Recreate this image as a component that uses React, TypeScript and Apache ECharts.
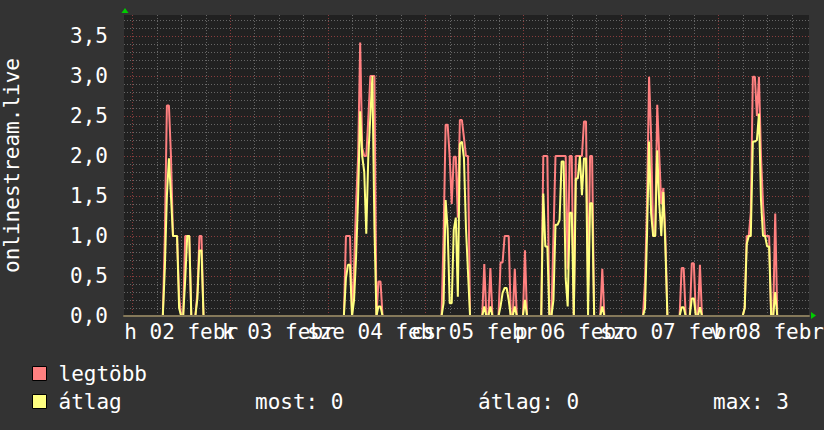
import React, { useEffect, useRef } from "react";
import * as echarts from "echarts";

// Time axis in hours relative to 2 Feb 00:00, sampled every half hour (index k = 2*hour)
const X_MIN = -2.04;
const X_MAX = 166.3;
const Y_MAX = 3.7625;

const dayLabels = ["h 02 febr", "k 03 febr", "sze 04 febr", "cs 05 febr", "p 06 febr", "szo 07 febr", "v 08 febr"];
const dayLabelHours = [12, 36, 60, 84, 108, 132, 156];
const midnightHours = [0, 24, 48, 72, 96, 120, 144];

const seriesNames = ["legtöbb", "átlag"];
const statLabels = ["most: 0", "átlag: 0", "max: 3"];

// Segments: start index (half-hours), values of "legtöbb" (max) and "átlag" (avg)
const seg1Start = 16;
const seg1Max = [1.0, 2.63, 2.63, 2.0, 1.0, 1.0, 1.0, 0.25, 0, 0, 1.0, 1.0, 1.0, 0, 0, 0, 0.3, 1.0, 1.0, 0];
const seg1Avg = [0.6, 1.5, 1.97, 1.5, 1.0, 1.0, 1.0, 0.1, 0, 0, 0.45, 1.0, 1.0, 0, 0, 0, 0.22, 0.82, 0.82, 0];

const seg2Start = 105;
const seg2Max = [1.0, 1.0, 1.0, 0, 0.6, 1.4, 2.0, 3.42, 2.1, 2.0, 2.0, 2.47, 3.0, 3.0, 3.0, 0, 0.43, 0.43, 0];
const seg2Avg = [0.47, 0.64, 0.64, 0, 0.2, 0.75, 1.5, 2.56, 2.0, 1.8, 1.03, 2.0, 2.5, 3.0, 1.12, 0, 0.12, 0.12, 0];

const seg3Start = 153;
const seg3Max = [1.0, 2.39, 2.39, 1.99, 1.4, 1.99, 1.99, 1.23, 2.45, 2.45, 2.23, 2.0, 2.0, 0];
const seg3Avg = [0.16, 1.45, 1.08, 0.16, 0.16, 1.08, 1.23, 0.24, 2.15, 2.18, 1.98, 1.1, 0.54, 0];

const seg4Start = 173;
const seg4Max = [0.65, 0, 0, 0.6, 0, 0, 0, 0, 0.67, 0.67, 1.0, 1.0, 1.0, 0, 0, 0.59, 0, 0, 0, 0, 0.82, 0];
const seg4Avg = [0.12, 0, 0, 0.12, 0, 0, 0, 0, 0.12, 0.29, 0.35, 0.35, 0.2, 0, 0, 0.12, 0, 0, 0, 0, 0.2, 0];

const seg5Start = 202;
const seg5Max = [2.0, 2.0, 2.0, 0, 0, 1.0, 2.0, 2.0, 2.0, 2.0, 2.0, 2.0, 0.58, 2.0, 2.0, 0, 2.0, 2.0, 2.0, 2.0, 2.43, 2.43, 0.3, 2.0, 2.0, 0, 0, 0, 0, 0.59, 0];
const seg5Avg = [1.53, 0.87, 0.87, 0, 0, 0.2, 1.14, 1.14, 1.2, 1.93, 1.93, 0.47, 0.12, 1.29, 1.29, 0, 1.72, 1.72, 2.0, 1.51, 1.97, 1.97, 0, 1.41, 1.41, 0, 0, 0, 0, 0.12, 0];

const seg6Start = 252;
const seg6Max = [0.43, 1.41, 2.99, 2.24, 1.0, 1.0, 2.64, 2.01, 1.4, 1.6, 1.0, 0, 0, 0, 0, 0, 0, 0, 0.6, 0.6, 0, 0, 0, 0.66, 0.66, 0, 0, 0.64, 0];
const seg6Avg = [0.1, 1.03, 2.18, 1.28, 1.0, 1.0, 2.07, 1.41, 1.0, 1.55, 0.87, 0, 0, 0, 0, 0, 0, 0, 0.11, 0.11, 0, 0, 0, 0.22, 0.22, 0, 0, 0.11, 0];

const seg7Start = 301;
const seg7Max = [0.1, 1.0, 1.0, 1.3, 2.99, 2.99, 2.5, 2.99, 2.0, 1.4, 1.0, 1.0, 1.0, 0, 0, 1.28, 0];
const seg7Avg = [0.1, 0.9, 1.0, 1.0, 2.18, 2.18, 2.2, 2.53, 1.45, 1.0, 1.0, 0.87, 0.87, 0, 0, 0.3, 0];

const segStarts = [seg1Start, seg2Start, seg3Start, seg4Start, seg5Start, seg6Start, seg7Start];
const segMax = [seg1Max, seg2Max, seg3Max, seg4Max, seg5Max, seg6Max, seg7Max];
const segAvg = [seg1Avg, seg2Avg, seg3Avg, seg4Avg, seg5Avg, seg6Avg, seg7Avg];

const K_MIN = -4;
const K_MAX = 332;

function buildSeries(segs: number[][]): number[][] {
  const map = new Map<number, number>();
  segs.forEach((vals, i) => {
    vals.forEach((v, j) => map.set(segStarts[i] + j, v));
  });
  const out: number[][] = [];
  for (let k = K_MIN; k <= K_MAX; k++) {
    out.push([k / 2, map.get(k) ?? 0]);
  }
  return out;
}

const FONT = "'DejaVu Sans Mono', monospace";
const MINOR = "#666666";
const MAJOR = "#8a3c3c";
const RED = "#ff8080";
const YELLOW = "#ffff80";

export default function App() {
  const ref = useRef<HTMLDivElement>(null);
  useEffect(() => {
    if (!ref.current) return;
    const chart = echarts.init(ref.current, undefined, { renderer: "svg" });

    const vMinor: number[] = [];
    for (let h = 6; h < X_MAX; h += 6) if (!midnightHours.includes(h)) vMinor.push(h);
    const hMinor: number[] = [];
    const hMajor: number[] = [];
    for (let i = 1; i <= 37; i++) (i % 5 === 0 ? hMajor : hMinor).push(i / 10);

    const labelData = dayLabelHours.map((h, i) => [h, 0, i]);

    chart.setOption({
      animation: false,
      backgroundColor: "#333333",
      grid: {
        left: 124,
        top: 15,
        width: 685,
        height: 301,
        show: true,
        backgroundColor: "#212121",
        borderWidth: 0,
        containLabel: false,
        outerBoundsMode: "none",
      },
      legend: {
        data: seriesNames,
        orient: "vertical",
        left: 32,
        top: 363,
        padding: 0,
        icon: "rect",
        itemWidth: 14,
        itemHeight: 14,
        itemGap: 7,
        itemStyle: { borderColor: "#000", borderWidth: 1 },
        textStyle: { color: "#ffffff", fontFamily: FONT, fontSize: 21, lineHeight: 21, padding: [0, 0, 0, 7] },
        selectedMode: false,
      },
      xAxis: {
        type: "value",
        min: X_MIN,
        max: X_MAX,
        z: 10,
        axisLine: { show: true, onZero: false, lineStyle: { color: "#85795a", width: 2 } },
        axisTick: { show: false },
        splitLine: { show: false },
        axisLabel: { show: false },
      },
      yAxis: {
        type: "value",
        min: 0,
        max: Y_MAX,
        interval: 0.5,
        name: "onlinestream.live",
        nameLocation: "middle",
        nameRotate: 90,
        nameGap: 102,
        nameTextStyle: { color: "#ffffff", fontFamily: FONT, fontSize: 21 },
        axisLine: { show: false },
        axisTick: { show: false },
        splitLine: { show: false },
        axisLabel: {
          color: "#ffffff",
          fontFamily: FONT,
          fontSize: 21,
          margin: 16,
          showMaxLabel: false,
          formatter: (v: number) => v.toFixed(1).replace(".", ","),
        },
      },
      graphic: [
        {
          type: "polygon",
          shape: { points: [[125, 8], [121.5, 13], [128.5, 13]] },
          style: { fill: "#00cc00" },
          z: 100,
        },
        {
          type: "polygon",
          shape: { points: [[816, 315.5], [811, 312], [811, 319]] },
          style: { fill: "#00cc00" },
          z: 100,
        },
        ...statLabels.map((t, i) => ({
          type: "text",
          left: [255, 478, 713][i],
          top: 391,
          style: { text: t, fill: "#ffffff", font: `21px ${FONT}` },
        })),
      ],
      series: [
        {
          type: "custom",
          silent: true,
          z: 1,
          clip: false,
          data: [[0, 0]],
          encode: { x: 0, y: 1 },
          renderItem: (params: any, api: any) => {
            const children: any[] = [];
            const addV = (h: number, color: string) => {
              const p1 = api.coord([h, 0]);
              const p2 = api.coord([h, Y_MAX]);
              const x = Math.round(p1[0]) + 0.5;
              children.push({
                type: "line",
                shape: { x1: x, y1: p1[1], x2: x, y2: p2[1] },
                style: { stroke: color, lineWidth: 1, lineDash: [1, 2] },
              });
            };
            const addH = (v: number, color: string) => {
              const p1 = api.coord([X_MIN, v]);
              const p2 = api.coord([X_MAX, v]);
              const y = Math.round(p1[1]) + 0.5;
              children.push({
                type: "line",
                shape: { x1: p1[0], y1: y, x2: p2[0], y2: y },
                style: { stroke: color, lineWidth: 1, lineDash: [1, 2] },
              });
            };
            hMinor.forEach((v) => addH(v, MINOR));
            vMinor.forEach((h) => addV(h, MINOR));
            hMajor.forEach((v) => addH(v, MAJOR));
            midnightHours.forEach((h) => addV(h, MAJOR));
            return { type: "group", children };
          },
        },
        {
          type: "custom",
          silent: true,
          z: 5,
          clip: false,
          data: labelData,
          encode: { x: 0, y: 1 },
          renderItem: (params: any, api: any) => {
            const p = api.coord([api.value(0), 0]);
            return {
              type: "text",
              x: p[0],
              y: p[1] + 5,
              style: {
                text: dayLabels[api.value(2)],
                fill: "#ffffff",
                font: `21px ${FONT}`,
                textAlign: "center",
                textVerticalAlign: "top",
              },
            };
          },
        },
        {
          name: seriesNames[0],
          type: "line",
          z: 3,
          showSymbol: false,
          color: RED,
          lineStyle: { color: RED, width: 2 },
          data: buildSeries(segMax),
        },
        {
          name: seriesNames[1],
          type: "line",
          z: 4,
          showSymbol: false,
          color: YELLOW,
          lineStyle: { color: YELLOW, width: 2 },
          data: buildSeries(segAvg),
        },
      ],
    });
    return () => chart.dispose();
  }, []);
  return (
    <div
      ref={ref}
      style={{ position: "fixed", left: 0, top: 0, width: 824, height: 430 }}
    />
  );
}
